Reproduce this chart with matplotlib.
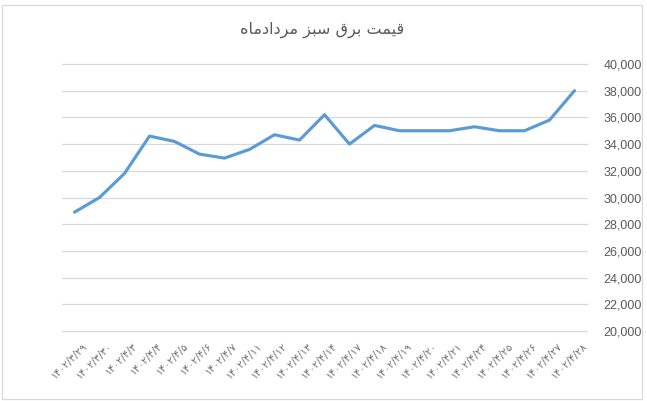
import numpy as np
import matplotlib.pyplot as plt
import matplotlib.transforms as mtransforms
from matplotlib.patches import Rectangle

#------------------------------------
# Data
#------------------------------------

dates = ["۱۴۰۲/۳/۲۹", "۱۴۰۲/۳/۳۰", "۱۴۰۲/۴/۳", "۱۴۰۲/۴/۴", "۱۴۰۲/۴/۵",
         "۱۴۰۲/۴/۶", "۱۴۰۲/۴/۷", "۱۴۰۲/۴/۱۱", "۱۴۰۲/۴/۱۲", "۱۴۰۲/۴/۱۳",
         "۱۴۰۲/۴/۱۴", "۱۴۰۲/۴/۱۷", "۱۴۰۲/۴/۱۸", "۱۴۰۲/۴/۱۹", "۱۴۰۲/۴/۲۰",
         "۱۴۰۲/۴/۲۱", "۱۴۰۲/۴/۲۴", "۱۴۰۲/۴/۲۵", "۱۴۰۲/۴/۲۶", "۱۴۰۲/۴/۲۷",
         "۱۴۰۲/۴/۲۸"]

prices = [28900, 30000, 31800, 34600, 34200,
          33250, 32950, 33600, 34700, 34300,
          36200, 34000, 35400, 35000, 35000,
          35000, 35300, 35000, 35000, 35800,
          38000]

yticks = np.arange(20000, 40001, 2000)

# title "قیمت برق سبز مردادماه" written with presentation forms,
# because matplotlib does no arabic shaping
title_logical = ("\uFED7\uFEF4\uFEE4\uFE96" + " " +
                 "\uFE91\uFEAE\uFED5" + " " +
                 "\uFEB3\uFE92\uFEB0" + " " +
                 "\uFEE3\uFEAE\uFEA9\uFE8D\uFEA9\uFEE3\uFE8E\uFEE9")
title_visual = title_logical[::-1]

#------------------------------------
# Plot
#------------------------------------

fig = plt.figure(figsize=(6.47, 4.01), dpi=100)
ax = fig.add_axes([62/647, 1 - 331/401, 525/647, 267/401])

x = np.arange(len(dates))
ax.plot(x, prices, color='#5B9BD5', linewidth=2.25, solid_capstyle='round')

ax.set_xlim(-0.5, len(dates) - 0.5)
ax.set_ylim(20000, 40000)
ax.set_yticks(yticks)
ax.set_yticklabels([f"{v:,}" for v in yticks], family='Liberation Sans',
                   fontsize=9, color='#595959')
ax.yaxis.tick_right()
ax.tick_params(axis='y', length=0, pad=12)
ax.grid(axis='y', color='#D9D9D9', linewidth=0.9)
ax.set_axisbelow(True)
for gl in ax.get_ygridlines():
    gl.set_clip_on(False)

ax.set_xticks(x)
ax.set_xticklabels(dates, rotation=45, ha='right', rotation_mode='anchor',
                   family='DejaVu Sans', fontsize=7.5, color='#707070')
ax.tick_params(axis='x', length=0, pad=7)
# shift the rotated labels a bit to the right, like excel does
shift = mtransforms.ScaledTranslation(8/100, 0, fig.dpi_scale_trans)
for lbl in ax.get_xticklabels():
    lbl.set_transform(lbl.get_transform() + shift)

for s in ax.spines.values():
    s.set_visible(False)

fig.text(322/647, 1 - 30/401, title_visual, ha='center', va='center',
         family='DejaVu Sans', fontsize=11.5, color='#595959')

# chart border
fig.patches.append(Rectangle((1.5/647, 1 - 398.5/401), 640.5/647, 394/401,
                             transform=fig.transFigure, fill=False,
                             edgecolor='#D9D9D9', linewidth=0.9))

fig.savefig('out.png', dpi=100)
